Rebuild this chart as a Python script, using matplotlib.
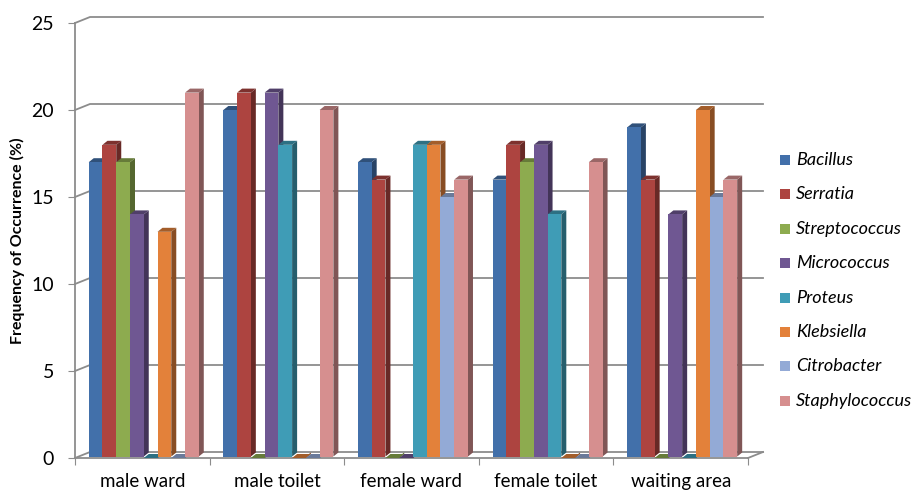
import numpy as np
import matplotlib
matplotlib.use("Agg")
import matplotlib.pyplot as plt
from matplotlib.patches import Polygon, Rectangle
from matplotlib.colors import to_rgb

sites = ["male ward", "male toilet", "female ward", "female toilet", "waiting area"]
genera = ["Bacillus", "Serratia", "Streptococcus", "Micrococcus",
          "Proteus", "Klebsiella", "Citrobacter", "Staphylococcus"]

bacillus = [17, 20, 17, 16, 19]
serratia = [18, 21, 16, 18, 16]
streptococcus = [17, 0, 0, 17, 0]
micrococcus = [14, 21, 0, 18, 14]
proteus = [0, 18, 18, 14, 0]
klebsiella = [13, 0, 18, 0, 20]
citrobacter = [0, 0, 15, 0, 15]
staphylococcus = [21, 20, 16, 17, 16]

series = [bacillus, serratia, streptococcus, micrococcus,
          proteus, klebsiella, citrobacter, staphylococcus]
colors = ["#4270AA", "#AD4440", "#8DAB4F", "#6F5792",
          "#3F9CB6", "#E3813A", "#93AAD6", "#D68F8F"]

plt.rcParams["font.family"] = ["Lato", "DejaVu Sans"]

W, H = 917, 491
fig = plt.figure(figsize=(W / 100, H / 100), dpi=100)
ax_l, ax_b, ax_w, ax_h = 75, 33, 673, 435
ax = fig.add_axes([ax_l / W, ax_b / H, ax_w / W, ax_h / H])
ax.set_xlim(0, 5)
ax.set_ylim(0, 25)

# pixel -> data unit helpers for the fake 3d depth
px_x = 5 / ax_w
px_y = 25 / ax_h
wall_dx, wall_dy = 15 * px_x, 6 * px_y
bar_dx, bar_dy = 5 * px_x, 4 * px_y

grid_c = "#8C8C8C"
for v in range(0, 30, 5):
    ax.plot([0, wall_dx, 5 + wall_dx], [v, v + wall_dy, v + wall_dy],
            color=grid_c, lw=1.3, zorder=1, clip_on=False)
# floor edge on the right
ax.plot([5, 5 + wall_dx], [0, wall_dy], color=grid_c, lw=1.3, zorder=1, clip_on=False)


def shade(c, f):
    r, g, b = to_rgb(c)
    return (r * f, g * f, b * f)


bw = 0.1022
start = 0.102
base = 1.5 * px_y
for ci in range(len(sites)):
    for si, vals in enumerate(series):
        x0 = ci + start + si * bw
        x1 = x0 + bw
        h = vals[ci]
        c = colors[si]
        side = Polygon([(x1, base), (x1 + bar_dx, base + bar_dy), (x1 + bar_dx, h + bar_dy), (x1, h)],
                       closed=True, fc=shade(c, 0.6), ec="none", zorder=3, clip_on=False)
        top = Polygon([(x0, h), (x0 + bar_dx, h + bar_dy), (x1 + bar_dx, h + bar_dy), (x1, h)],
                      closed=True, fc=shade(c, 0.72), ec="none", zorder=3, clip_on=False)
        ax.add_patch(side)
        ax.add_patch(top)
        if h > 0:
            ax.bar(x0, h - base, bottom=base, width=bw, align="edge", color=c,
                   zorder=3, clip_on=False)

for s in ["top", "right"]:
    ax.spines[s].set_visible(False)
for s in ["left", "bottom"]:
    ax.spines[s].set_color(grid_c)
    ax.spines[s].set_linewidth(1.3)

ax.set_yticks(range(0, 30, 5))
ax.set_xticks(range(6))
ax.set_xticklabels([])
ax.set_xticks(np.arange(5) + 0.5, minor=True)
ax.set_xticklabels(sites, minor=True, fontsize=13.5)
ax.tick_params(axis="x", which="minor", length=0, pad=11)
ax.tick_params(axis="x", which="major", length=5, color=grid_c)
ax.tick_params(axis="y", length=5, color=grid_c, labelsize=14, pad=10)
ax.set_ylabel("Frequency of Occurrence (%)", fontsize=11.5, fontweight="bold", labelpad=5)

# legend
for i, (name, c) in enumerate(zip(genera, colors)):
    yc = 160 + i * 34.4
    fig.add_artist(Rectangle((780 / W, 1 - (yc + 5) / H), 10 / W, 10 / H,
                             transform=fig.transFigure, fc=c, ec="none"))
    fig.text(796 / W, 1 - yc / H, name, fontsize=13, style="italic",
             va="center", ha="left")

fig.savefig("out.png", dpi=100)
